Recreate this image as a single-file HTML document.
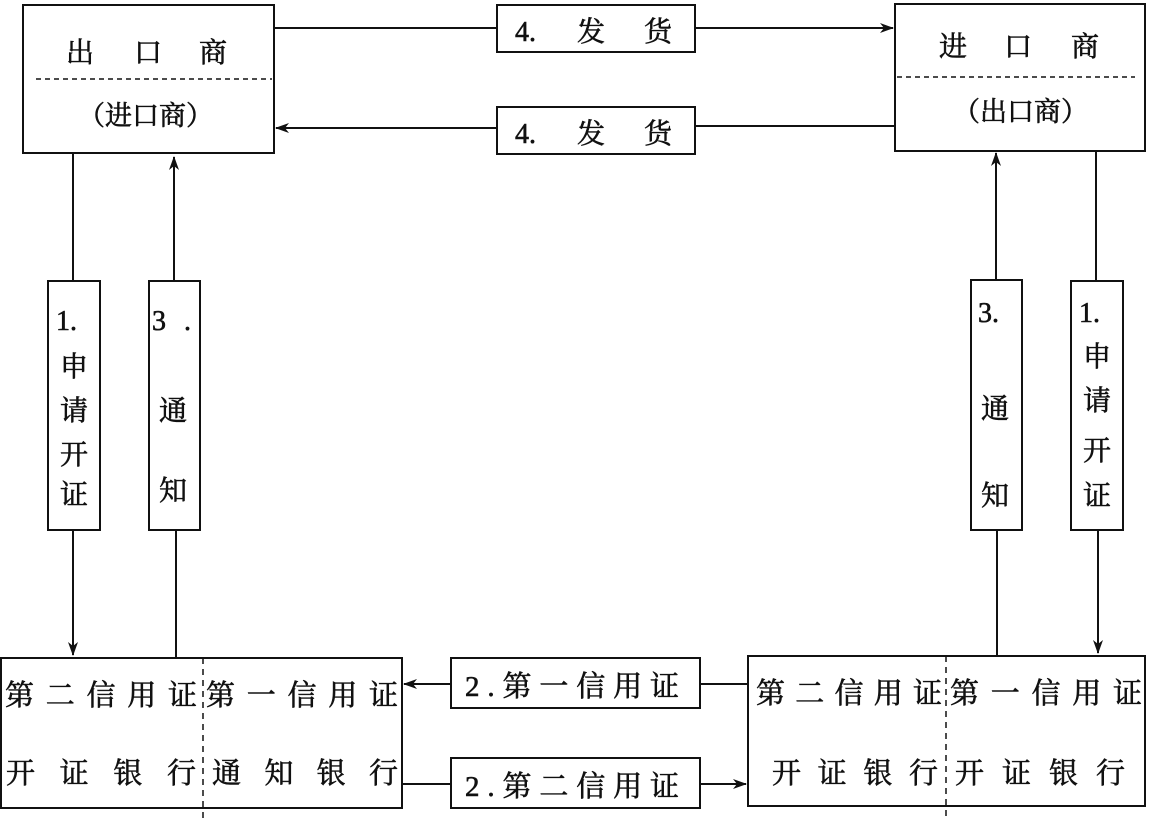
<!DOCTYPE html>
<html><head><meta charset="utf-8"><style>
html,body{margin:0;padding:0;background:#fff;}
svg{display:block;}
text{font-family:"Liberation Serif","Noto Serif CJK SC","Noto Sans CJK SC",serif;fill:#111;stroke:#111;stroke-width:0.6;}
</style></head><body>
<svg width="1150" height="818" viewBox="0 0 1150 818" xmlns="http://www.w3.org/2000/svg">
<defs>
<marker id="ah" markerWidth="14" markerHeight="10" refX="13" refY="5" orient="auto" markerUnits="userSpaceOnUse">
<path d="M0,0 L14,5 L0,10 L4,5 Z" fill="#111"/>
</marker>
</defs>
<g stroke="#111" stroke-width="2" fill="none">
<rect x="23" y="5" width="251" height="148"/>
<rect x="895" y="4" width="250" height="147"/>
<line x1="36" y1="79" x2="272" y2="79" stroke-dasharray="5,4" stroke-width="1.5"/>
<line x1="897" y1="77" x2="1135" y2="77" stroke-dasharray="5,4" stroke-width="1.5"/>
<rect x="497" y="5" width="198" height="47"/>
<rect x="497" y="107" width="198" height="47"/>
<line x1="274" y1="28" x2="497" y2="28"/>
<line x1="695" y1="28" x2="893" y2="28" marker-end="url(#ah)"/>
<line x1="895" y1="126" x2="695" y2="126"/>
<line x1="497" y1="128" x2="276" y2="128" marker-end="url(#ah)"/>
<rect x="48" y="281" width="52" height="249"/>
<rect x="149" y="281" width="51" height="249"/>
<line x1="73" y1="153" x2="73" y2="281"/>
<line x1="73" y1="530" x2="73" y2="655" marker-end="url(#ah)"/>
<line x1="174" y1="281" x2="174" y2="157" marker-end="url(#ah)"/>
<line x1="176" y1="530" x2="176" y2="658"/>
<rect x="971" y="280" width="51" height="250"/>
<rect x="1071" y="281" width="52" height="249"/>
<line x1="996" y1="280" x2="996" y2="153" marker-end="url(#ah)"/>
<line x1="997" y1="530" x2="997" y2="655"/>
<line x1="1096" y1="151" x2="1096" y2="281"/>
<line x1="1098" y1="530" x2="1098" y2="653" marker-end="url(#ah)"/>
<rect x="1" y="658" width="401" height="150"/>
<rect x="748" y="656" width="397" height="150"/>
<line x1="203" y1="658" x2="203" y2="818" stroke-dasharray="6,5" stroke-width="1.5"/>
<line x1="946" y1="656" x2="946" y2="818" stroke-dasharray="6,5" stroke-width="1.5"/>
<rect x="451" y="658" width="249" height="50"/>
<rect x="451" y="758" width="249" height="50"/>
<line x1="700" y1="684" x2="748" y2="684"/>
<line x1="451" y1="684" x2="404" y2="684" marker-end="url(#ah)"/>
<line x1="402" y1="784" x2="451" y2="784"/>
<line x1="700" y1="784" x2="746" y2="784" marker-end="url(#ah)"/>
</g>
<g font-size="28">
<text x="66" y="62">出</text><text x="134" y="62">口</text><text x="199" y="62">商</text>
<text x="78" y="125" font-size="27">（进口商）</text>
<text x="939" y="56">进</text><text x="1004" y="56">口</text><text x="1071" y="56">商</text>
<text x="953" y="121" font-size="27">（出口商）</text>
<text x="515" y="41">4.</text><text x="577" y="41">发</text><text x="644" y="41">货</text>
<text x="515" y="143">4.</text><text x="577" y="143">发</text><text x="644" y="143">货</text>
<text x="56" y="330">1.</text>
<text x="60" y="376">申</text><text x="60" y="420">请</text><text x="60" y="464">开</text><text x="60" y="504">证</text>
<text x="152" y="330">3</text><text x="184" y="330">.</text>
<text x="159" y="420">通</text><text x="159" y="500">知</text>
<text x="978" y="322">3.</text>
<text x="981" y="418">通</text><text x="981" y="505">知</text>
<text x="1079" y="322">1.</text>
<text x="1083" y="366">申</text><text x="1083" y="410">请</text><text x="1083" y="460">开</text><text x="1083" y="505">证</text>
<text x="5" y="705" font-size="29" textLength="192">第二信用证</text>
<text x="206" y="705" font-size="29" textLength="192">第一信用证</text>
<text x="6" y="783" font-size="29" textLength="190">开证银行</text>
<text x="212" y="783" font-size="29" textLength="186">通知银行</text>
<text x="465" y="696" font-size="29" textLength="214">2.第一信用证</text>
<text x="465" y="796" font-size="29" textLength="214">2.第二信用证</text>
<text x="756" y="703" font-size="29" textLength="186">第二信用证</text>
<text x="950" y="703" font-size="29" textLength="192">第一信用证</text>
<text x="772" y="783" font-size="29" textLength="166">开证银行</text>
<text x="955" y="783" font-size="29" textLength="170">开证银行</text>
</g>
</svg>
</body></html>
